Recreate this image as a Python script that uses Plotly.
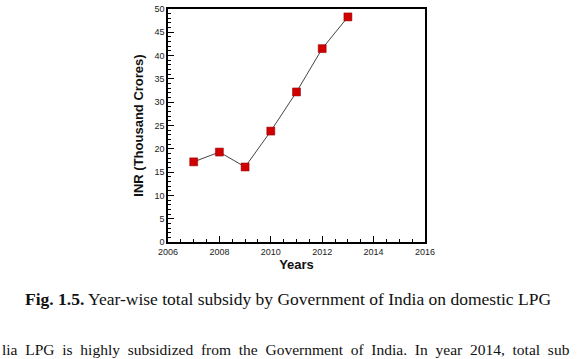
import plotly.graph_objects as go

years = [2007, 2008, 2009, 2010, 2011, 2012, 2013]
subsidy = [17.2, 19.3, 16.1, 23.8, 32.2, 41.5, 48.3]

x_tickvals = [2006, 2008, 2010, 2012, 2014, 2016]
y_tickvals = [0, 5, 10, 15, 20, 25, 30, 35, 40, 45, 50]

W, H = 579, 359
ML, MR, MT, MB = 168, 154, 9, 117

fig = go.Figure()
fig.add_trace(go.Scatter(
    x=years, y=subsidy, mode="lines+markers",
    line=dict(color="#444444", width=1),
    marker=dict(symbol="square", size=8, color="#D10000",
                line=dict(color="#8B0000", width=0.5)),
    showlegend=False,
))

axis_font = dict(family="Liberation Sans, Arial", size=9, color="#222222")
title_font = dict(family="Liberation Sans, Arial", size=13, color="#111111")

fig.update_xaxes(
    range=[2006, 2016], tickvals=x_tickvals, ticks="inside", ticklen=6,
    tickwidth=1.2, tickcolor="black",
    minor=dict(dtick=0.5, ticks="inside", ticklen=3, tickcolor="black"),
    showline=True, linecolor="black", linewidth=1.5, mirror=True,
    showgrid=False, zeroline=False, tickfont=axis_font, automargin=False,
    title=dict(text="<b>Years</b>", font=title_font, standoff=0),
)
fig.update_yaxes(
    range=[0, 50], tickvals=y_tickvals, ticks="inside", ticklen=6,
    tickwidth=1.2, tickcolor="black",
    minor=dict(dtick=1, ticks="inside", ticklen=3, tickcolor="black"),
    showline=True, linecolor="black", linewidth=1.5, mirror=True,
    showgrid=False, zeroline=False, tickfont=axis_font, automargin=False,
    title=dict(text="<b>INR (Thousand Crores)</b>", font=title_font, standoff=8),
)

plot_h = H - MT - MB
plot_w = W - ML - MR
def ypix(p):
    return (H - MB - p) / plot_h
def xpix(p):
    return (p - ML) / plot_w

serif = dict(family="Liberation Serif, Times New Roman", size=17.5, color="#111111")

fig.add_annotation(
    x=xpix(288), y=ypix(299), xref="paper", yref="paper",
    xanchor="center", yanchor="middle",
    text="<b>Fig. 1.5.</b> Year-wise total subsidy by Government of India on domestic LPG",
    showarrow=False, font=serif,
)

body_words = ["lia", "LPG", "is", "highly", "subsidized", "from", "the", "Government",
              "of", "India.", "In", "year", "2014,", "total", "sub"]
body = dict(family="Liberation Serif, Times New Roman", size=15.5, color="#111111")
fig.add_annotation(
    x=xpix(0), y=ypix(349), xref="paper", yref="paper",
    xanchor="left", yanchor="middle", text=" \u00a0".join(body_words),
    showarrow=False, font=body,
)

fig.update_layout(
    width=W, height=H,
    margin=dict(l=ML, r=MR, t=MT, b=MB, autoexpand=False),
    paper_bgcolor="white", plot_bgcolor="white",
)

fig.write_html("out.html")
